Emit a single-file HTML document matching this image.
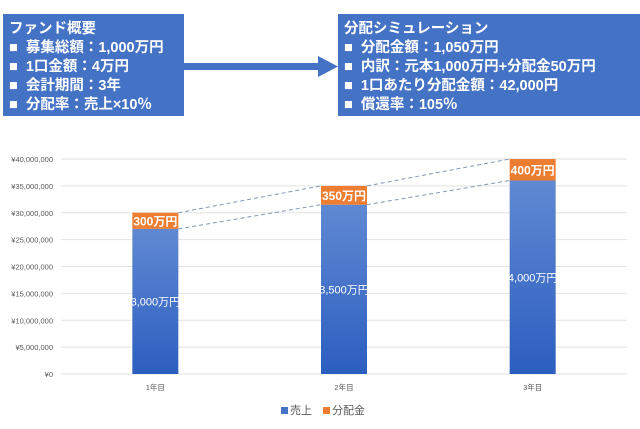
<!DOCTYPE html>
<html><head><meta charset="utf-8"><style>
body{margin:0;width:640px;height:429px;background:#fff;overflow:hidden;font-family:"Liberation Sans","Noto Sans CJK JP",sans-serif}
.box{position:absolute;background:#4472c4;color:#fff;font-size:14.5px;font-weight:bold;line-height:19px;padding:6px 0 0 6px;box-sizing:border-box}
</style></head><body>
<div class="box" style="left:3px;top:14px;width:181px;height:102px">ファンド概要<br>■&nbsp; 募集総額：1,000万円<br>■&nbsp; 1口金額：4万円<br>■&nbsp; 会計期間：3年<br>■&nbsp; 分配率：売上×10％</div>
<div class="box" style="left:338px;top:14px;width:302px;height:102px">分配シミュレーション<br>■&nbsp; 分配金額：1,050万円<br>■&nbsp; 内訳：元本1,000万円+分配金50万円<br>■&nbsp; 1口あたり分配金額：42,000円<br>■&nbsp; 償還率：105％</div>
<svg width="640" height="429" style="position:absolute;left:0;top:0" id="chart">
<g><rect x="184" y="63" width="136" height="7" fill="#4472c4"/><polygon points="318,56 338,66.5 318,77" fill="#4472c4"/></g>
<g id="grid"></g><g id="bars"></g>
</svg>
<script>
const categories=["1年目","2年目","3年目"];
const baseValues=[27000000,31500000,36000000];
const distValues=[3000000,3500000,4000000];
const baseLabels=["3,000万円","3,500万円","4,000万円"];
const distLabels=["300万円","350万円","400万円"];
const yTicks=[0,5000000,10000000,15000000,20000000,25000000,30000000,35000000,40000000];
const NS="http://www.w3.org/2000/svg";
const x0=61,x1=627,y0=374,yMax=40000000,ph=215,bw=46;
const y=v=>y0-v/yMax*ph;
const step=(x1-x0)/categories.length;
const cx=i=>x0+step*(i+0.5);
const svg=document.getElementById('chart');
function mk(t,a,p){const e=document.createElementNS(NS,t);for(const k in a)e.setAttribute(k,a[k]);(p||svg).appendChild(e);return e;}
const defs=mk('defs',{});const lg=mk('linearGradient',{id:'bg',x1:0,y1:0,x2:0,y2:1},defs);
mk('stop',{offset:0,'stop-color':'#6089d2'},lg);mk('stop',{offset:1,'stop-color':'#2c5ec0'},lg);
const grid=document.getElementById('grid');
yTicks.forEach(v=>{
 const l=mk('line',{x1:x0,x2:x1,y1:y(v),y2:y(v),stroke:'#e2e2e2','stroke-width':1},grid);
 
 const t=mk('text',{x:53,y:y(v)+3,'text-anchor':'end','font-size':'7.5',fill:'#595959'},grid);
 t.textContent='¥'+v.toLocaleString('en-US');
 
});
const bars=document.getElementById('bars');
categories.forEach((c,i)=>{
 const tb=y(baseValues[i]),tt=y(baseValues[i]+distValues[i]),L=cx(i)-bw/2;
 const b=mk('rect',{x:L,y:tb,width:bw,height:y0-tb,fill:'url(#bg)'},bars);
 
 const o=mk('rect',{x:L,y:tt,width:bw,height:tb-tt,fill:'#ed7d31'},bars);
 
 const t1=mk('text',{x:cx(i),y:(tb+y0)/2+4,'text-anchor':'middle','font-size':'11',fill:'#fff'},bars);t1.textContent=baseLabels[i];
 
 const t2=mk('text',{x:cx(i),y:(tt+tb)/2+4.5,'text-anchor':'middle','font-size':'12','font-weight':'bold',fill:'#fff'},bars);t2.textContent=distLabels[i];
 
 const t3=mk('text',{x:cx(i),y:390,'text-anchor':'middle','font-size':'7.5',fill:'#595959'},bars);t3.textContent=c;
 
 if(i<categories.length-1){
  const R=cx(i)+bw/2,NL=cx(i+1)-bw/2;
  const d1=mk('line',{x1:R,y1:tt,x2:NL,y2:y(baseValues[i+1]+distValues[i+1]),stroke:'#8497b0','stroke-dasharray':'4,3','stroke-width':1},bars);
  
  const d2=mk('line',{x1:R,y1:tb,x2:NL,y2:y(baseValues[i+1]),stroke:'#8497b0','stroke-dasharray':'4,3','stroke-width':1},bars);
  
 }
});
</script>
<div style="position:absolute;left:281px;top:402px;font-size:11px;color:#595959;white-space:nowrap">
<span><span style="display:inline-block;width:7px;height:7px;background:#4472c4;margin-right:2px"></span>売上</span>
<span style="margin-left:8px"><span style="display:inline-block;width:7px;height:7px;background:#ed7d31;margin-right:2px"></span>分配金</span>
</div>
</body></html>
